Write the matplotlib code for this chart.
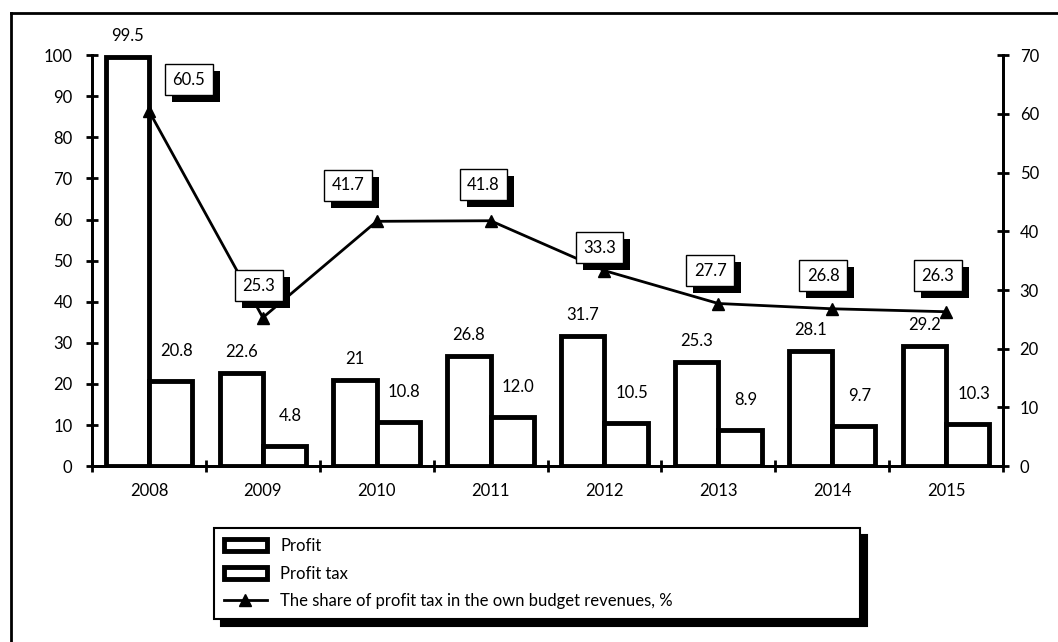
import matplotlib.pyplot as plt
import matplotlib.patheffects as pe
from matplotlib.patches import Patch
from matplotlib.lines import Line2D
import numpy as np

plt.rcParams['font.family'] = ['Lato', 'DejaVu Sans']
plt.rcParams['font.size'] = 12

years = ['2008', '2009', '2010', '2011', '2012', '2013', '2014', '2015']
profit = [99.5, 22.6, 21, 26.8, 31.7, 25.3, 28.1, 29.2]
profit_labels = ['99.5', '22.6', '21', '26.8', '31.7', '25.3', '28.1', '29.2']
profit_tax = [20.8, 4.8, 10.8, 12.0, 10.5, 8.9, 9.7, 10.3]
tax_share = [60.5, 25.3, 41.7, 41.8, 33.3, 27.7, 26.8, 26.3]

# box offsets (pixels) for the share labels
share_offsets = [(40, 31), (-4, 32), (-29, 36), (-7, 36), (-5, 23), (-8, 33), (-9, 33), (-8, 36)]
shadow = [pe.SimplePatchShadow(offset=(5, -5), shadow_rgbFace='black', alpha=1), pe.Normal()]

fig = plt.figure(figsize=(10.58, 6.42), dpi=100)
# frame: top and left edges only
fig.add_artist(Line2D([0.0104, 1.0], [0.980, 0.980], transform=fig.transFigure,
                      color='black', linewidth=2))
fig.add_artist(Line2D([0.0104, 0.0104], [0.0, 0.980], transform=fig.transFigure,
                      color='black', linewidth=2))

ax = fig.add_axes([0.087, 0.274, 0.861, 0.640])
ax2 = ax.twinx()

x = np.arange(len(years))
w = 0.38
ax.bar(x - 0.19, profit, w, facecolor='white', edgecolor='black', linewidth=3.5, zorder=2)
ax.bar(x + 0.19, profit_tax, w, facecolor='white', edgecolor='black', linewidth=3.5, zorder=2)

for xi, v, s in zip(x, profit, profit_labels):
    ax.annotate(s, (xi - 0.19, v), xytext=(0, 13), textcoords='offset pixels',
                ha='center', va='bottom', fontsize=12)
for xi, v in zip(x, profit_tax):
    ax.annotate(f'{v:.1f}', (xi + 0.19, v), xytext=(6, 22), textcoords='offset pixels',
                ha='center', va='bottom', fontsize=12)

ax2.plot(x, tax_share, color='black', linewidth=2, marker='^', markersize=9, zorder=3)
for xi, v, (dx, dy) in zip(x, tax_share, share_offsets):
    t = ax2.annotate(f'{v:.1f}', (xi, v), xytext=(dx, dy), textcoords='offset pixels',
                     ha='center', va='center', fontsize=12,
                     bbox=dict(boxstyle='square,pad=0.45', facecolor='white', edgecolor='black',
                               linewidth=1))
    t.get_bbox_patch().set_path_effects(shadow)

ax.set_xlim(-0.5, len(years) - 0.5)
ax.set_ylim(0, 100)
ax2.set_ylim(0, 70)
ax.set_yticks(range(0, 101, 10))
ax2.set_yticks(range(0, 71, 10))
ax.set_xticks(x)
ax.set_xticklabels(years)
ax.set_xticks(np.arange(-0.5, len(years), 1), minor=True)
ax.tick_params(axis='x', which='major', length=0, pad=12)
ax.tick_params(axis='x', which='minor', direction='inout', length=8, width=2)
ax.tick_params(axis='y', direction='inout', length=8, width=2, pad=10)
ax2.tick_params(axis='y', direction='inout', length=8, width=2, pad=8)

for a in (ax, ax2):
    a.spines['top'].set_visible(False)
    for s in ('left', 'right', 'bottom'):
        a.spines[s].set_linewidth(2)

handles = [Patch(facecolor='white', edgecolor='black', linewidth=3.5),
           Patch(facecolor='white', edgecolor='black', linewidth=3.5),
           Line2D([], [], color='black', linewidth=2, marker='^', markersize=8)]
labels = ['Profit', 'Profit tax', 'The share of profit tax in the own budget revenues, %']
leg = fig.legend(handles, labels, loc='center', bbox_to_anchor=(0.194, 0.030, 0.627, 0.153),
                 mode='expand', bbox_transform=fig.transFigure, frameon=True, fancybox=False,
                 shadow={'color': 'black', 'alpha': 1, 'ox': 5, 'oy': -5},
                 borderpad=0.6, labelspacing=0.7, handlelength=2.6, fontsize=12)
leg.get_frame().set_edgecolor('black')
leg.get_frame().set_linewidth(1.5)

fig.savefig('out.png', dpi=100)
